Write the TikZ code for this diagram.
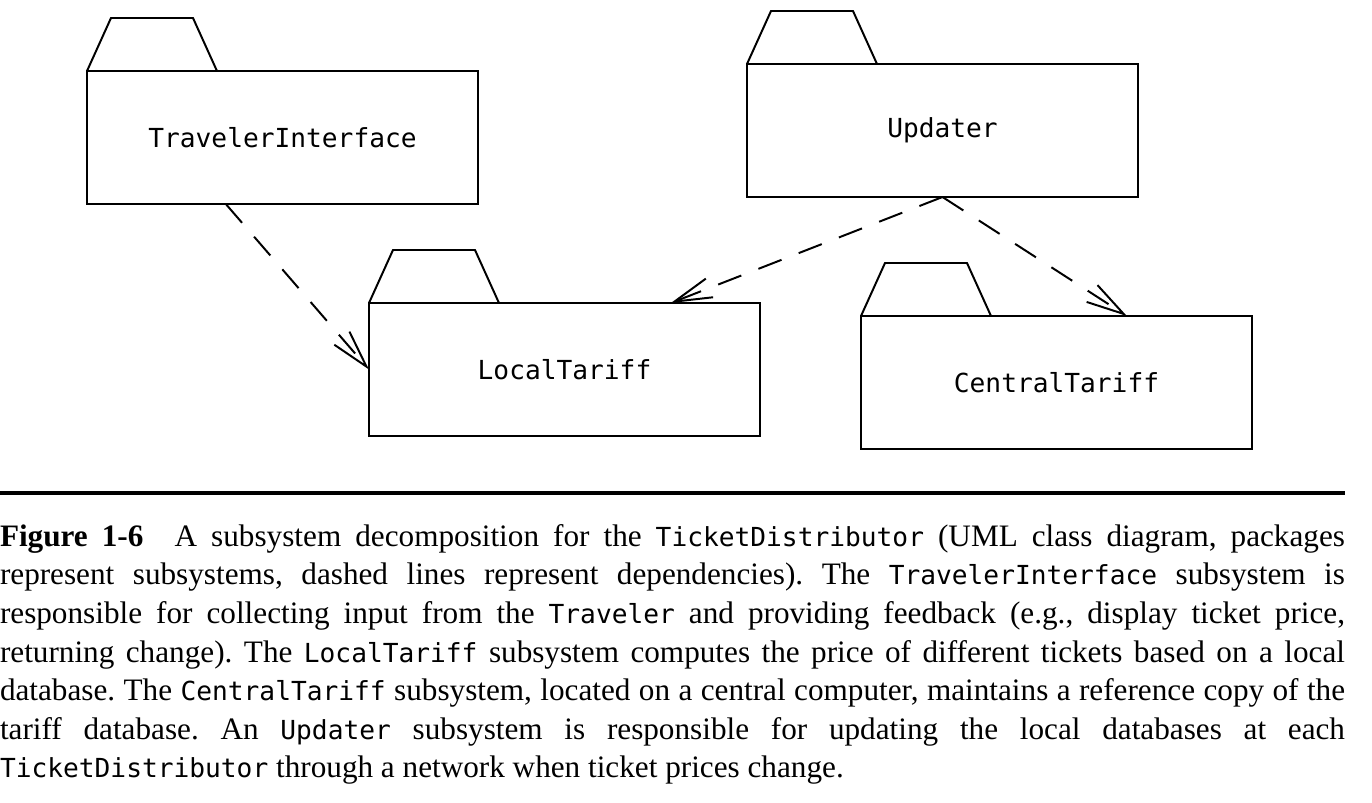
\documentclass[tikz,border=0pt]{standalone}
\usepackage{fontspec}
\setmainfont{Liberation Serif}
\setmonofont{DejaVu Sans Mono}[Scale=0.84]
\usetikzlibrary{arrows.meta,calc}

\begin{document}
\begin{tikzpicture}[x=0.125mm, y=-0.125mm,
  every node/.style={inner sep=0pt, outer sep=0pt},
  pkg/.style={draw, line width=0.7pt, minimum width=48.875mm, minimum height=16.625mm, font=\fontsize{11.1}{13.75}\selectfont\ttfamily},
  dep/.style={line width=0.7pt, dash pattern=on 3.1mm off 2.3mm, -{Straight Barb[length=4.7mm, width=2.5mm]}}]
\useasboundingbox (0,0) rectangle (1372,802);

\node[pkg] (ti) at (282.5,137.5) {TravelerInterface};
\node[pkg] (upd) at (942.5,130.5) {Updater};
\node[pkg] (lt) at (564.5,369.5) {LocalTariff};
\node[pkg] (ct) at (1056.5,382.5) {CentralTariff};

\foreach \p in {ti,upd,lt,ct}
  \draw[line width=0.7pt] (\p.north west) -- ++(24,-53) -- ++(82,0) -- ++(24,53);

\draw[dep] ($(ti.south west)!0.355!(ti.south east)$) -- (lt.west);
\draw[dep] (upd.south) -- ($(lt.north west)!0.772!(lt.north east)$);
\draw[dep] (upd.south) -- ($(ct.north west)!0.68!(ct.north east)$);

\draw[line width=1.4pt] (0,493) -- (1345,493);

\node[anchor=base west, text width=168.125mm, align=justify, font=\fontsize{11.1}{13.75}\selectfont] (cap) at (0,546)
{\frenchspacing\hyphenpenalty=10000
\textbf{Figure 1-6}\quad A subsystem decomposition for the \texttt{TicketDistributor} (UML class diagram, packages\linebreak
represent subsystems, dashed lines represent dependencies). The \texttt{TravelerInterface} subsystem is\linebreak
responsible for collecting input from the \texttt{Traveler} and providing feedback (e.g., display ticket price,\linebreak
returning change). The \texttt{LocalTariff} subsystem computes the price of different tickets based on a local\linebreak
database. The \texttt{CentralTariff} subsystem, located on a central computer, maintains a reference copy of the\linebreak
tariff database. An \texttt{Updater} subsystem is responsible for updating the local databases at each\linebreak
\texttt{TicketDistributor} through a network when ticket prices change.};
\end{tikzpicture}
\end{document}
